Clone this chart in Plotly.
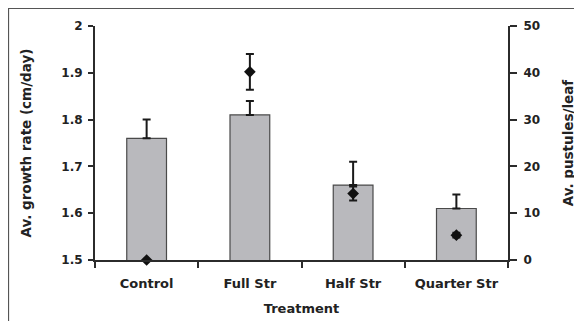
import plotly.graph_objects as go

categories = ["Control", "Full Str", "Half Str", "Quarter Str"]
growth_rate = [1.76, 1.81, 1.66, 1.61]
growth_err = [0.04, 0.03, 0.05, 0.03]
pustules = [0.0, 40.2, 14.2, 5.3]
pustules_err = [0.0, 3.8, 1.5, 0.5]
left_ticks = [1.5, 1.6, 1.7, 1.8, 1.9, 2.0]
left_tick_text = ["1.5", "1.6", "1.7", "1.8", "1.9", "2"]
right_ticks = [0, 10, 20, 30, 40, 50]

TICKFONT = dict(family="DejaVu Sans", size=12, color="#222222", weight="bold")
XFONT = dict(family="DejaVu Sans", size=13, color="#222222", weight="bold")
YTITLEFONT = dict(family="DejaVu Sans", size=13.5, color="#222222", weight="bold")
AXC = "#2b2b2b"

fig = go.Figure()
fig.add_trace(go.Bar(
    x=categories, y=growth_rate,
    marker=dict(color="#b9b9bd", line=dict(color="#4a4a4a", width=1.2)),
    error_y=dict(type="data", array=growth_err, arrayminus=[0]*4,
                 color="#1a1a1a", thickness=2, width=4),
    yaxis="y", showlegend=False,
))
fig.add_trace(go.Scatter(
    x=categories, y=pustules, mode="markers",
    marker=dict(symbol="diamond", size=9, color="#111111"),
    error_y=dict(type="data", array=pustules_err, color="#1a1a1a",
                 thickness=2, width=4),
    yaxis="y2", showlegend=False, cliponaxis=False,
))

fig.update_layout(
    width=574, height=313,
    margin=dict(l=87, r=74, t=18, b=61),
    paper_bgcolor="white", plot_bgcolor="white",
    font=TICKFONT,
    bargap=0.615,
    xaxis=dict(
        automargin=False,
        showline=True, linecolor=AXC, linewidth=2,
        ticks="outside", tickson="boundaries", ticklen=6, tickwidth=2, tickcolor=AXC,
        showgrid=False, tickfont=XFONT, ticklabelstandoff=10,
        title=dict(text="Treatment", font=XFONT, standoff=14),
    ),
    yaxis=dict(
        automargin=False,
        range=[1.5, 2.0], tickvals=left_ticks, ticktext=left_tick_text,
        showline=True, linecolor=AXC, linewidth=2,
        ticks="outside", ticklen=5, tickwidth=2, tickcolor=AXC,
        showgrid=False, zeroline=False, tickfont=TICKFONT, ticklabelstandoff=3,
        title=dict(text="Av. growth rate (cm/day)", font=YTITLEFONT, standoff=27),
    ),
    yaxis2=dict(
        automargin=False,
        range=[0, 50], tickvals=right_ticks, overlaying="y", side="right",
        showline=True, linecolor=AXC, linewidth=2,
        ticks="outside", ticklen=7, tickwidth=2, tickcolor=AXC,
        showgrid=False, zeroline=False, tickfont=TICKFONT, ticklabelstandoff=4,
        title=dict(text="Av. pustules/leaf", font=YTITLEFONT, standoff=24),
    ),
    shapes=[dict(type="rect", xref="paper", yref="paper",
                 x0=-0.2094, x1=1.167, y0=-0.35, y1=1.0748,
                 line=dict(color="#555555", width=1.2), layer="below")],
)

fig.write_html("out.html")
